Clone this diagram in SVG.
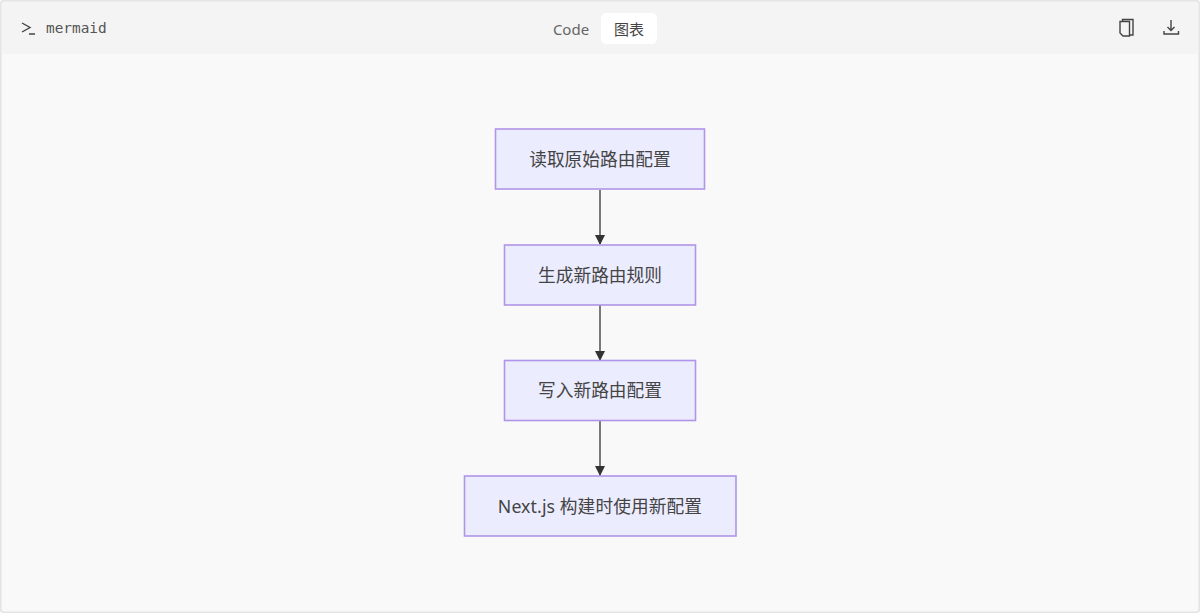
<svg xmlns="http://www.w3.org/2000/svg" width="1200" height="613" viewBox="0 0 1200 613">
<defs><marker id="arrow" markerUnits="userSpaceOnUse" markerWidth="10" markerHeight="10" refX="9" refY="5" orient="auto"><path d="M0 0L10 5L0 10z" fill="#333"/></marker></defs>
<style>
.box{fill:#ECECFF;stroke:#B095E8;stroke-width:1.6}
.t{font-family:"Noto Sans","Noto Sans CJK SC",sans-serif;font-size:17.7px;fill:#444;text-anchor:middle}
.edge{stroke:#444;stroke-width:1.4;fill:none;marker-end:url(#arrow)}
.icon{stroke:#444;stroke-width:1.4;fill:none}
</style>
<rect x="0.500" y="0.500" width="1199" height="612" rx="4" fill="#f9f9f9" stroke="#e4e4e4" stroke-width="2"/>
<path d="M2 5a3 3 0 0 1 3-3H1195a3 3 0 0 1 3 3V54H2z" fill="#f4f4f4"/>
<g id="header">
<path class="icon" stroke-width="1.700" d="M22 23l8 4.500l-8 4.500M29 34h6"/>
<text x="46" y="33" font-family="'DejaVu Sans Mono',monospace" font-size="14.400" fill="#555">mermaid</text>
<text x="571" y="35" font-family="'Noto Sans','Noto Sans CJK SC',sans-serif" font-size="15" fill="#666" text-anchor="middle">Code</text>
<rect x="601" y="13" width="56" height="31" rx="5" fill="#fff"/>
<text x="629" y="35" font-family="'Noto Sans CJK SC',sans-serif" font-size="15" fill="#444" text-anchor="middle">图表</text>
<path class="icon" d="M1122.500 21v-1.500h10.500v15.500h-3M1120 21.500h9.500v14.500h-6.500l-3-3z"/>
<path class="icon" d="M1171 20v10M1167.500 27l3.500 3.500l3.500-3.500M1164 31v3h14.500v-3"/>
</g>
<g id="connectors">
<path class="edge" d="M600 190V244"/>
<path class="edge" d="M600 305V360"/>
<path class="edge" d="M600 421V475"/>
</g>
<g id="n1"><rect class="box" x="495.500" y="129" width="209" height="60"/><text class="t" x="600" y="166">读取原始路由配置</text></g>
<g id="n2"><rect class="box" x="504.500" y="245" width="191" height="60"/><text class="t" x="600" y="282">生成新路由规则</text></g>
<g id="n3"><rect class="box" x="504.500" y="360.500" width="191" height="60"/><text class="t" x="600" y="397">写入新路由配置</text></g>
<g id="n4"><rect class="box" x="464.500" y="476" width="271.500" height="60"/><text class="t" x="600" y="513" letter-spacing="0.100">Next.js 构建时使用新配置</text></g>
</svg>
